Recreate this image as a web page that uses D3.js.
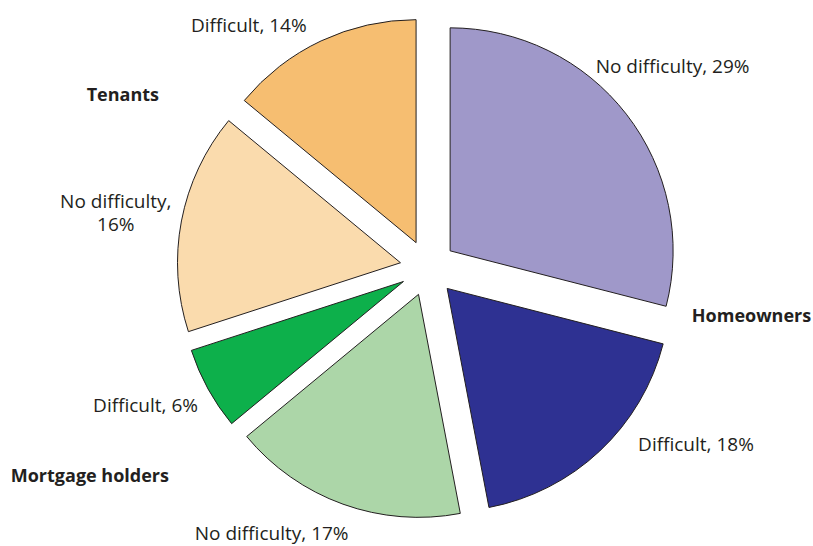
<!DOCTYPE html>
<html>
<head>
<meta charset="utf-8">
<script src="https://cdn.jsdelivr.net/npm/d3@7"></script>
<style>
  html, body { margin: 0; padding: 0; background: #ffffff; }
  svg { display: block; }
  text { font-family: "Open Sans", "Noto Sans", sans-serif; fill: #231f20; }
</style>
</head>
<body>
<svg id="chart" width="813" height="546"></svg>
<script>
// Housing groups and how they cope with payments (share of all households, %)
const groups = ["Homeowners", "Homeowners", "Mortgage holders", "Mortgage holders", "Tenants", "Tenants"];
const statuses = ["No difficulty", "Difficult", "No difficulty", "Difficult", "No difficulty", "Difficult"];
const shares = [29, 18, 17, 6, 16, 14];
const sliceColors = ["#9f98c9", "#2e3192", "#acd6a8", "#0db04b", "#fadbad", "#f6be71"];

// Group titles
const groupNames = ["Homeowners", "Mortgage holders", "Tenants"];

// Label placement around the pie: angle (degrees, clockwise from 12 o'clock) and distance from centre
const sliceLabelPolar = [[50.5, 317], [123.4, 321], [210.5, 308], [244.1, 314], [280, 317], [323.6, 302]];
const groupLabelPolar = [[98.4, 327], [238.4, 397], [299.6, 351]];

const width = 813, height = 546;
const cx = 428, cy = 268;
const radius = 223;
const explode = 28;
const fontSize = 19;
const titleSize = 18;

const svg = d3.select("#chart");
const g = svg.append("g").attr("transform", `translate(${cx},${cy})`);

const rows = shares.map((v, i) => ({ group: groups[i], status: statuses[i], value: v, color: sliceColors[i] }));

const pie = d3.pie().sort(null).value(d => d.value).startAngle(0).endAngle(2 * Math.PI);
const arc = d3.arc().innerRadius(0).outerRadius(radius);

const arcs = pie(rows);

// Exploded slices, each pushed out along its bisector
g.selectAll("path.slice")
  .data(arcs)
  .join("path")
  .attr("class", "slice")
  .attr("d", arc)
  .attr("fill", d => d.data.color)
  .attr("stroke", "#231f20")
  .attr("stroke-width", 1)
  .attr("stroke-linejoin", "miter")
  .attr("transform", d => {
    const a = (d.startAngle + d.endAngle) / 2;
    return `translate(${explode * Math.sin(a)},${-explode * Math.cos(a)})`;
  });

function polar(p) {
  const a = p[0] * Math.PI / 180;
  return [p[1] * Math.sin(a), -p[1] * Math.cos(a)];
}

// Slice labels: "Status, NN%" (the narrow left-hand label wraps onto two lines)
arcs.forEach((d, i) => {
  const [x, y] = polar(sliceLabelPolar[i]);
  const lines = i === 4
    ? [`${d.data.status},`, `${d.data.value}%`]
    : [`${d.data.status}, ${d.data.value}%`];
  const lineGap = 23;
  lines.forEach((line, k) => {
    g.append("text")
      .attr("x", x)
      .attr("y", y + (k - (lines.length - 1) / 2) * lineGap)
      .attr("dy", "0.35em")
      .attr("text-anchor", "middle")
      .attr("font-size", fontSize)
      .text(line);
  });
});

// Group titles
groupNames.forEach((name, i) => {
  const [x, y] = polar(groupLabelPolar[i]);
  g.append("text")
    .attr("x", x)
    .attr("y", y)
    .attr("dy", "0.35em")
    .attr("text-anchor", "middle")
    .attr("font-size", titleSize)
    .attr("font-weight", "bold")
    .text(name);
});
</script>
</body>
</html>
